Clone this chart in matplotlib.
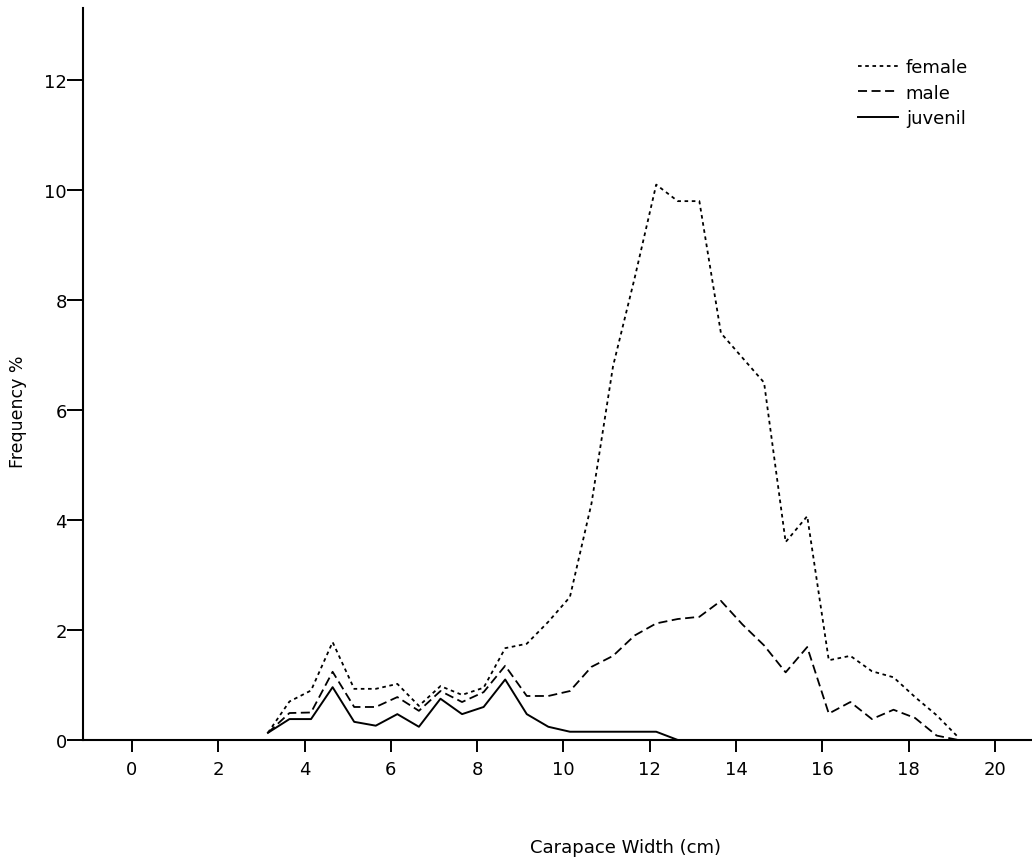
import matplotlib
matplotlib.use('Agg')
import matplotlib.pyplot as plt

# carapace width classes (cm)
width_cm = [3.15, 3.65, 4.15, 4.65, 5.15, 5.65, 6.15, 6.65, 7.15, 7.65, 8.15,
            8.65, 9.15, 9.65, 10.15, 10.65, 11.15, 11.65, 12.15, 12.65, 13.15,
            13.65, 14.15, 14.65, 15.15, 15.65, 16.15, 16.65, 17.15, 17.65,
            18.15, 18.65, 19.15]

female = [0.13, 0.70, 0.90, 1.78, 0.93, 0.93, 1.02, 0.62, 0.98, 0.82, 0.95,
          1.67, 1.75, 2.15, 2.60, 4.30, 6.80, 8.40, 10.10, 9.80, 9.80,
          7.40, 6.95, 6.50, 3.60, 4.07, 1.45, 1.53, 1.25, 1.14,
          0.78, 0.45, 0.05]

male = [0.13, 0.49, 0.50, 1.24, 0.60, 0.60, 0.78, 0.53, 0.89, 0.69, 0.87,
        1.35, 0.80, 0.80, 0.89, 1.33, 1.53, 1.90, 2.12, 2.20, 2.24,
        2.53, 2.10, 1.72, 1.23, 1.69, 0.48, 0.69, 0.38, 0.55,
        0.40, 0.08, 0.00]

juvenil = [0.13, 0.38, 0.38, 0.96, 0.33, 0.26, 0.47, 0.24, 0.75, 0.47, 0.60,
           1.10, 0.47, 0.24, 0.15, 0.15, 0.15, 0.15, 0.15, 0.00, 0.00,
           0.00, 0.00, 0.00, 0.00, 0.00, 0.00, 0.00, 0.00, 0.00,
           0.00, 0.00, 0.00]

plt.rcParams['font.family'] = ['DejaVu Sans']

fig = plt.figure(figsize=(10.32, 8.62), dpi=100)
ax = fig.add_axes([0.0804, 0.1404, 0.9196, 0.849])

ax.plot(width_cm, female, color='black', lw=1.3, dashes=(2, 2), label='female')
ax.plot(width_cm, male, color='black', lw=1.3, dashes=(5, 2.5), label='male')
ax.plot(width_cm, juvenil, color='black', lw=1.4, label='juvenil')

ax.set_xlim(-1.136, 20.86)
ax.set_ylim(0, 13.31)
ax.set_xticks(range(0, 21, 2))
ax.set_yticks(range(0, 13, 2))

for s in ['top', 'right']:
    ax.spines[s].set_visible(False)
for s in ['left', 'bottom']:
    ax.spines[s].set_linewidth(1.5)
    ax.spines[s].set_color('black')

ax.tick_params(axis='y', direction='out', length=11.5, width=1.4, pad=0,
               labelsize=13)
ax.tick_params(axis='x', direction='out', length=8.6, width=1.4, pad=6,
               labelsize=13)

fig.text(18 / 1032, 1 - 412 / 862, 'Frequency %', rotation=90,
         ha='center', va='center', fontsize=12.5)
fig.text(626 / 1032, 1 - 848 / 862, 'Carapace Width (cm)',
         ha='center', va='center', fontsize=13)

ax.legend(loc='upper left', bbox_to_anchor=(858 / 1032, 1 - 59 / 862),
          bbox_transform=fig.transFigure, frameon=False, fontsize=13,
          handlelength=2.2, handletextpad=0.45, labelspacing=0.42,
          borderpad=0, borderaxespad=0)

fig.savefig('out.png', dpi=100)
plt.close(fig)
